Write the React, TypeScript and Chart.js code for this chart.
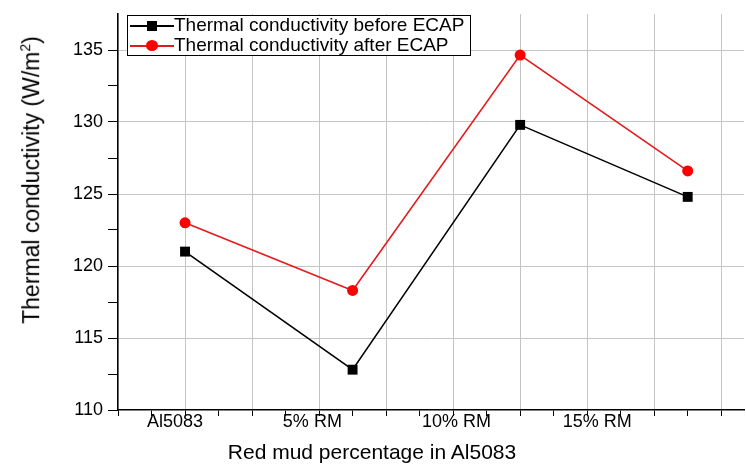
import React, { useEffect, useRef } from "react";
import { Chart, registerables } from "chart.js";

Chart.register(...registerables);

const categories = ["Al5083", "5% RM", "10% RM", "15% RM"];
// x positions of the samples on the plot's numeric axis
const samplePositions = [1, 3.5, 6, 8.5];
// x positions where the category labels are printed (offset in the original)
const labelPositions = [0.85, 2.9, 5.05, 7.15];
const beforeECAP = [121.0, 112.8, 129.8, 124.8];
const afterECAP = [123.0, 118.3, 134.65, 126.6];
const yTicks = [110, 115, 120, 125, 130, 135];

const FONT = "'Liberation Sans', Arial, Helvetica, sans-serif";

export default function App() {
  const ref = useRef<HTMLCanvasElement | null>(null);

  useEffect(() => {
    if (!ref.current) return;
    const xTickValues: number[] = [];
    for (let v = 0; v <= 9.01; v += 0.5) xTickValues.push(Math.round(v * 10) / 10);
    const allX = [...xTickValues, ...labelPositions].sort((a, b) => a - b);
    const isLabel = (v: number) => labelPositions.some((p) => Math.abs(p - v) < 1e-6);

    const chart = new Chart(ref.current, {
      type: "line",
      data: {
        datasets: [
          {
            label: "Thermal conductivity before ECAP",
            data: beforeECAP.map((y, i) => ({ x: samplePositions[i], y })),
            borderColor: "#000000",
            backgroundColor: "#000000",
            borderWidth: 1.6,
            pointStyle: "rect",
            pointRadius: 7,
            pointBorderWidth: 0,
            tension: 0,
          },
          {
            label: "Thermal conductivity after ECAP",
            data: afterECAP.map((y, i) => ({ x: samplePositions[i], y })),
            borderColor: "#e41a1c",
            backgroundColor: "#ff0000",
            borderWidth: 1.6,
            pointStyle: "circle",
            pointRadius: 5.5,
            pointBorderWidth: 0,
            tension: 0,
          },
        ],
      },
      options: {
        animation: false,
        responsive: false,
        maintainAspectRatio: false,
        layout: { padding: { left: 0, right: 0, top: 14, bottom: 0 } },
        plugins: {
          legend: { display: false },
          tooltip: { enabled: false },
        },
        scales: {
          x: {
            type: "linear",
            min: 0,
            max: 9.34,
            afterBuildTicks: (scale: any) => {
              scale.ticks = allX.map((v) => ({ value: v }));
            },
            afterFit: (scale: any) => {
              scale.height = 54;
              scale.paddingLeft = 0;
              scale.paddingRight = 0;
            },
            ticks: {
              autoSkip: false,
              minRotation: 0,
              maxRotation: 0,
              padding: -5,
              color: "#000000",
              font: { family: FONT, size: 18 },
              callback: (v: any) => {
                const idx = labelPositions.findIndex((p) => Math.abs(p - Number(v)) < 1e-6);
                return idx >= 0 ? categories[idx] : "";
              },
            },
            grid: {
              drawTicks: true,
              tickLength: 6,
              lineWidth: 1,
              color: (ctx: any) => {
                const v = ctx.tick ? ctx.tick.value : NaN;
                return Number.isInteger(v) && v >= 1 ? "#c4c4c4" : "rgba(0,0,0,0)";
              },
              tickColor: (ctx: any) => {
                const v = ctx.tick ? ctx.tick.value : NaN;
                return isLabel(v) ? "rgba(0,0,0,0)" : "#000000";
              },
            },
            border: { display: true, color: "#000000", width: 1.6 },
          },
          y: {
            min: 110,
            max: 137.5,
            afterBuildTicks: (scale: any) => {
              const t: any[] = [];
              for (let v = 110; v <= 137.5; v += 2.5) t.push({ value: v });
              scale.ticks = t;
            },
            afterFit: (scale: any) => {
              scale.width = 118;
              scale.paddingTop = 0;
              scale.paddingBottom = 0;
            },
            ticks: {
              padding: 5,
              color: "#000000",
              font: { family: FONT, size: 18 },
              callback: (v: any) => (yTicks.includes(Number(v)) ? String(v) : ""),
            },
            grid: {
              drawTicks: true,
              tickLength: 10,
              lineWidth: 1,
              color: (ctx: any) => {
                const v = ctx.tick ? ctx.tick.value : NaN;
                return yTicks.includes(v) && v > 110 ? "#c4c4c4" : "rgba(0,0,0,0)";
              },
              tickColor: (ctx: any) => {
                const v = ctx.tick ? ctx.tick.value : NaN;
                return v >= 137.5 ? "rgba(0,0,0,0)" : "#000000";
              },
            },
            border: { display: true, color: "#000000", width: 1.6 },
          },
        },
      },
    } as any);
    return () => chart.destroy();
  }, []);

  const legendRow = (color: string, marker: "rect" | "circle", text: string, top: number) => (
    <div style={{ position: "absolute", left: 0, top, height: 20, width: "100%" }}>
      <div
        style={{
          position: "absolute",
          left: 2,
          top: 9,
          width: 44,
          height: 1.6,
          background: color,
        }}
      />
      {marker === "rect" ? (
        <div
          style={{
            position: "absolute",
            left: 19,
            top: 5,
            width: 10,
            height: 10,
            background: color,
          }}
        />
      ) : (
        <div
          style={{
            position: "absolute",
            left: 18,
            top: 4,
            width: 12,
            height: 11,
            borderRadius: "50%",
            background: "#ff0000",
          }}
        />
      )}
      <div
        style={{
          position: "absolute",
          left: 46,
          top: -1,
          fontFamily: FONT,
          fontSize: 19,
          lineHeight: "20px",
          color: "#000",
          whiteSpace: "nowrap",
        }}
      >
        {text}
      </div>
    </div>
  );

  return (
    <div
      style={{
        position: "absolute",
        left: 0,
        top: 0,
        width: 746,
        height: 464,
        background: "#fff",
        overflow: "hidden",
      }}
    >
      <canvas ref={ref} width={751} height={464} style={{ position: "absolute", left: 0, top: 0 }} />
      <div
        style={{
          position: "absolute",
          left: 127,
          top: 15,
          width: 344,
          height: 41,
          background: "#fff",
          border: "1px solid #000",
          boxSizing: "border-box",
        }}
      >
        {legendRow("#000000", "rect", "Thermal conductivity before ECAP", 0)}
        {legendRow("#e41a1c", "circle", "Thermal conductivity after ECAP", 20)}
      </div>
      <div
        style={{
          position: "absolute",
          left: 31,
          top: 180,
          transform: "translate(-50%, -50%) rotate(-90deg)",
          fontFamily: FONT,
          fontSize: 23,
          whiteSpace: "nowrap",
          color: "#000",
        }}
      >
        Thermal conductivity (W/m<sup style={{ fontSize: 14 }}>2</sup>)
      </div>
      <div
        style={{
          position: "absolute",
          left: 372,
          top: 452,
          transform: "translate(-50%, -50%)",
          fontFamily: FONT,
          fontSize: 21,
          whiteSpace: "nowrap",
          color: "#000",
        }}
      >
        Red mud percentage in Al5083
      </div>
    </div>
  );
}
